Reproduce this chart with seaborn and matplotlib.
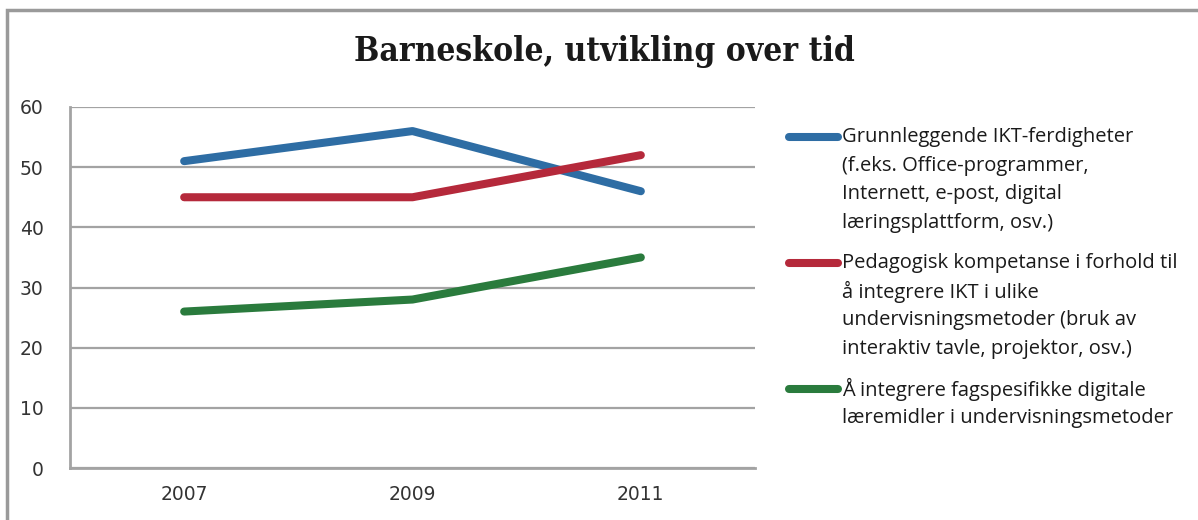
import matplotlib
matplotlib.use("Agg")
import matplotlib.pyplot as plt
from matplotlib.lines import Line2D
from matplotlib.patches import Rectangle
import seaborn as sns
import pandas as pd

# Survey data: share of primary-school teachers (%) by year
years = ["2007", "2009", "2011"]
grunnleggende = [51, 56, 46]
pedagogisk = [45, 45, 52]
fagspesifikke = [26, 28, 35]

series_labels = [
    "Grunnleggende IKT-ferdigheter\n(f.eks. Office-programmer,\nInternett, e-post, digital\nlæringsplattform, osv.)",
    "Pedagogisk kompetanse i forhold til\nå integrere IKT i ulike\nundervisningsmetoder (bruk av\ninteraktiv tavle, projektor, osv.)",
    "Å integrere fagspesifikke digitale\nlæremidler i undervisningsmetoder",
]
series_values = [grunnleggende, pedagogisk, fagspesifikke]
colors = ["#2e6da4", "#b5293b", "#2a7b3d"]
title = "Barneskole, utvikling over tid"

rows = []
for label, vals in zip(series_labels, series_values):
    for y, v in zip(years, vals):
        rows.append({"År": y, "Andel": v, "Serie": label})
df = pd.DataFrame(rows)

sns.set_theme(style="white")
plt.rcParams["font.family"] = ["DejaVu Sans"]

fig = plt.figure(figsize=(11.98, 5.2), dpi=100)
ax = fig.add_axes([70 / 1198, 1 - 468 / 520, (755 - 70) / 1198, (468 - 107) / 520])

sns.lineplot(data=df, x="År", y="Andel", hue="Serie", palette=colors,
             linewidth=5.8, solid_capstyle="round", legend=False, ax=ax)

grid_col = "#a3a3a3"
ax.set_xlim(-0.5, 2.5)
ax.set_ylim(0, 60)
ax.set_yticks(range(0, 61, 10))
ax.yaxis.grid(True, color=grid_col, linewidth=1.6)
ax.set_axisbelow(True)
for s in ["top", "right"]:
    ax.spines[s].set_visible(False)
for s in ["left", "bottom"]:
    ax.spines[s].set_color(grid_col)
    ax.spines[s].set_linewidth(2)

# category boundaries carry the tick marks, labels sit at category centres
ax.set_xticks([-0.5, 0.5, 1.5, 2.5])
ax.set_xticklabels([])
ax.set_xticks([0, 1, 2], minor=True)
ax.set_xticklabels(years, minor=True)
ax.tick_params(axis="x", which="major", length=6, width=1.6, color=grid_col, direction="out")
ax.tick_params(axis="x", which="minor", length=0, pad=12, labelsize=13.5, labelcolor="#333333")
ax.tick_params(axis="y", length=7, width=1.6, color=grid_col, direction="out",
               pad=12, labelsize=13.5, labelcolor="#333333")
ax.set_xlabel("")
ax.set_ylabel("")

fig.text(604 / 1198, 1 - 52 / 520, title, ha="center", va="center",
         family="DejaVu Serif", fontstretch="condensed", fontweight="bold",
         fontsize=24, color="#1a1a1a")

# legend: handle aligned with the first line of each entry
entry_tops = [137, 263, 389]
line_h = 28.7
for lab, col, yt in zip(series_labels, colors, entry_tops):
    yf = 1 - yt / 520
    fig.add_artist(Line2D([789 / 1198, 838 / 1198], [yf, yf], color=col,
                          linewidth=5.8, solid_capstyle="round",
                          transform=fig.transFigure))
    for i, line in enumerate(lab.split("\n")):
        fig.text(842 / 1198, 1 - (yt + i * line_h) / 520, line, ha="left",
                 va="center", family="Open Sans", fontsize=14.5, color="#1a1a1a")

# outer frame of the chart area
fig.add_artist(Rectangle((7 / 1198, -0.1), 1.2, 1 - 10 / 520 + 0.1,
                         transform=fig.transFigure, fill=False,
                         edgecolor="#9a9a9a", linewidth=2.5))

fig.savefig("out.png", dpi=100)
